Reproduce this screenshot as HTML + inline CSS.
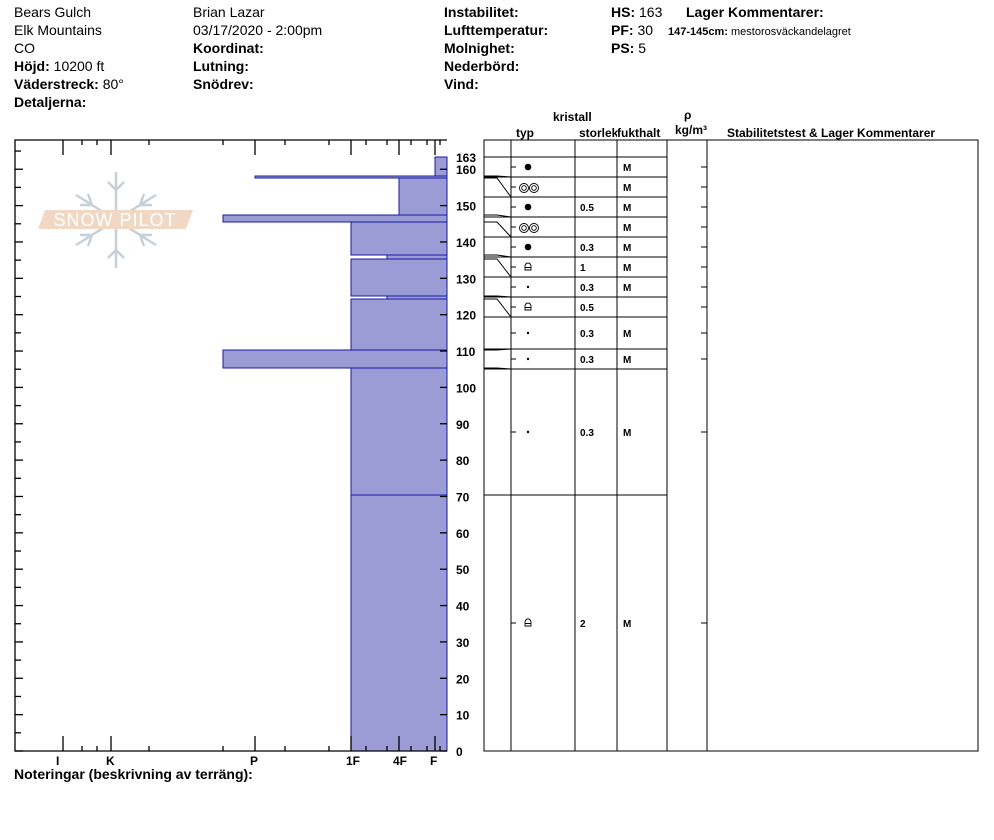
<!DOCTYPE html>
<html><head><meta charset="utf-8"><style>
html,body{margin:0;padding:0;background:#fff;width:994px;height:840px;overflow:hidden}
svg{display:block;font-family:"Liberation Sans",Arial,sans-serif}
.b{font-weight:bold}
</style></head><body>
<svg width="994" height="840" viewBox="0 0 994 840" xmlns="http://www.w3.org/2000/svg">
<g font-size="14" fill="#000">
<text x="14" y="17">Bears Gulch</text>
<text x="14" y="35">Elk Mountains</text>
<text x="14" y="53">CO</text>
<text x="14" y="71"><tspan class="b">Höjd:</tspan> 10200 ft</text>
<text x="14" y="89"><tspan class="b">Väderstreck:</tspan> 80°</text>
<text x="14" y="107" class="b">Detaljerna:</text>
<text x="193" y="17">Brian Lazar</text>
<text x="193" y="35">03/17/2020 - 2:00pm</text>
<text x="193" y="53" class="b">Koordinat:</text>
<text x="193" y="71" class="b">Lutning:</text>
<text x="193" y="89" class="b">Snödrev:</text>
<text x="444" y="17" class="b">Instabilitet:</text>
<text x="444" y="35" class="b">Lufttemperatur:</text>
<text x="444" y="53" class="b">Molnighet:</text>
<text x="444" y="71" class="b">Nederbörd:</text>
<text x="444" y="89" class="b">Vind:</text>
<text x="611" y="17"><tspan class="b">HS:</tspan> 163</text>
<text x="611" y="35"><tspan class="b">PF:</tspan> 30</text>
<text x="611" y="53"><tspan class="b">PS:</tspan> 5</text>
<text x="686" y="17" class="b">Lager Kommentarer:</text>
<text x="668" y="35" font-size="11"><tspan class="b">147-145cm:</tspan> mestorosväckandelagret</text>
<text x="14" y="779" class="b">Noteringar (beskrivning av terräng):</text>
</g>
<!-- logo -->
<g stroke="#c5d0d8" stroke-width="2.5" fill="none">
<line x1="116" y1="172" x2="116" y2="268"/>
<line x1="76" y1="195" x2="156" y2="245"/>
<line x1="156" y1="195" x2="76" y2="245"/>
<path d="M108 182 L116 190 L124 182 M108 258 L116 250 L124 258 M80 205 L92 205 L88 194 M152 205 L140 205 L144 194 M80 235 L92 235 L88 246 M152 235 L140 235 L144 246"/>
</g>
<polygon points="45,210 193,210 186,229 38,229" fill="#f0d8c4"/>
<text x="115" y="226" font-size="18" fill="#fff" text-anchor="middle" letter-spacing="1">SNOW PILOT</text>
<!-- bars -->
<g fill="#9b9bd5" stroke="#1a1aa0" stroke-width="1">
<rect x="435" y="157" width="12" height="19"/>
<rect x="255" y="176" width="192" height="2"/>
<rect x="399" y="178" width="48" height="37"/>
<rect x="223" y="215" width="224" height="7"/>
<rect x="351" y="222" width="96" height="33"/>
<rect x="387" y="255" width="60" height="4"/>
<rect x="351" y="259" width="96" height="37"/>
<rect x="387" y="296" width="60" height="3"/>
<rect x="351" y="299" width="96" height="51"/>
<rect x="223" y="350" width="224" height="18"/>
<rect x="351" y="368" width="96" height="127"/>
<rect x="351" y="495" width="96" height="256"/>
</g>
<!-- axes -->
<g stroke="#000" stroke-width="1.3" fill="none">
<polyline points="447,140 15,140 15,751 447,751"/>
<path d="M63 140v15M111 140v15M255 140v15M351 140v15M399 140v15M435 140v15M82 140v5M97 140v5M149 140v5M223 140v5M285 140v5M329 140v5M366 140v5M387 140v5M411 140v5M427 140v5M440 140v5"/>
<path d="M63 751v-15M111 751v-15M255 751v-15M351 751v-15M399 751v-15M435 751v-15M82 751v-5M97 751v-5M149 751v-5M223 751v-5M285 751v-5M329 751v-5M366 751v-5M387 751v-5M411 751v-5M427 751v-5M440 751v-5"/>
</g>
<g id="tk" stroke="#000" stroke-width="1.3"></g>
<g font-size="12" class="b" fill="#000">
<text x="56" y="765">I</text><text x="106" y="765">K</text><text x="250" y="765">P</text>
<text x="346" y="765">1F</text><text x="393" y="765">4F</text><text x="430" y="765">F</text>
<text x="456" y="162">163</text>
</g>
<g id="yl" font-size="12" class="b" fill="#000"></g>
<!-- table -->
<g font-size="12" class="b" fill="#000">
<text x="553" y="121">kristall</text>
<text x="516" y="137">typ</text>
<text x="579" y="137">storlek</text>
<text x="617" y="137">fukthalt</text>
<text x="684" y="119">ρ</text>
<text x="675" y="134">kg/m³</text>
<text x="727" y="137">Stabilitetstest &amp; Lager Kommentarer</text>
</g>
<rect x="617" y="122" width="52" height="18" fill="#fff"/>
<text x="617" y="137" font-size="12" class="b" font-family="Liberation Sans,sans-serif">fukthalt</text>
<g stroke="#000" stroke-width="1" fill="none">
<rect x="484" y="140" width="494" height="611"/>
<path d="M511 140V751M575 140V751M617 140V751M667 140V751M707 140V751"/>
<path d="M484 157H667M484 177H667M484 197H667M484 217H667M484 237H667M484 257H667M484 277H667M484 297H667M484 317H667M484 349H667M484 369H667M484 495H667"/>
<path d="M484 176H497L511 177M484 178H497L511 197M484 215H497L511 217M484 222H497L511 237M484 255H497L511 257M484 259H497L511 277M484 296H497L511 297M484 299H497L511 317M484 350H497L511 349M484 368H497L511 369M484 495H497"/>
<path d="M511 167h5M511 187h5M511 207h5M511 227h5M511 247h5M511 267h5M511 287h5M511 307h5M511 333h5M511 359h5M511 432h5M511 623h5"/>
<path d="M701 167h6M701 187h6M701 207h6M701 227h6M701 247h6M701 267h6M701 287h6M701 307h6M701 333h6M701 359h6M701 432h6M701 623h6"/>
</g>
<g fill="#000">
<circle cx="528" cy="167" r="3.3"/><circle cx="528" cy="207" r="3.3"/><circle cx="528" cy="247" r="3.3"/>
<circle cx="528" cy="287" r="1.2"/><circle cx="528" cy="333" r="1.2"/><circle cx="528" cy="359" r="1.2"/><circle cx="528" cy="432" r="1.2"/>
</g>
<g stroke="#000" fill="none" stroke-width="0.9">
<circle cx="524" cy="188" r="4.5"/><circle cx="524" cy="188" r="2.3"/><circle cx="534" cy="188" r="4.5"/><circle cx="534" cy="188" r="2.3"/>
<circle cx="524" cy="228" r="4.5"/><circle cx="524" cy="228" r="2.3"/><circle cx="534" cy="228" r="4.5"/><circle cx="534" cy="228" r="2.3"/>
<path d="M525 270v-4a3 3 0 0 1 6 0v4zM525 267.5h6"/>
<path d="M525 310v-4a3 3 0 0 1 6 0v4zM525 307.5h6"/>
<path d="M525 626v-4a3 3 0 0 1 6 0v4zM525 623.5h6"/>
</g>
<g font-size="10" class="b" fill="#000">
<text x="580" y="211">0.5</text><text x="580" y="251">0.3</text><text x="580" y="271">1</text><text x="580" y="291">0.3</text>
<text x="580" y="311">0.5</text><text x="580" y="337">0.3</text><text x="580" y="363">0.3</text><text x="580" y="436">0.3</text><text x="580" y="627">2</text>
<text x="623" y="171">M</text><text x="623" y="191">M</text><text x="623" y="211">M</text><text x="623" y="231">M</text><text x="623" y="251">M</text>
<text x="623" y="271">M</text><text x="623" y="291">M</text><text x="623" y="337">M</text><text x="623" y="363">M</text><text x="623" y="436">M</text><text x="623" y="627">M</text>
</g>
<script>
(function(){var ns="http://www.w3.org/2000/svg",tk=document.getElementById("tk"),yl=document.getElementById("yl");
for(var c=0;c<=165;c+=5){var y=751-c*3.636;var l=document.createElementNS(ns,"line");l.setAttribute("x1",15);l.setAttribute("x2",c%10==0?23:21);l.setAttribute("y1",y);l.setAttribute("y2",y);tk.appendChild(l);
if(c%10==0){var r=document.createElementNS(ns,"line");r.setAttribute("x1",440);r.setAttribute("x2",447);r.setAttribute("y1",y);r.setAttribute("y2",y);tk.appendChild(r);
var t=document.createElementNS(ns,"text");t.setAttribute("x",c>=100?456:(c==0?456:456));t.setAttribute("y",y+5);t.textContent=c;yl.appendChild(t);}}})();
</script>
</svg>
</body></html>
